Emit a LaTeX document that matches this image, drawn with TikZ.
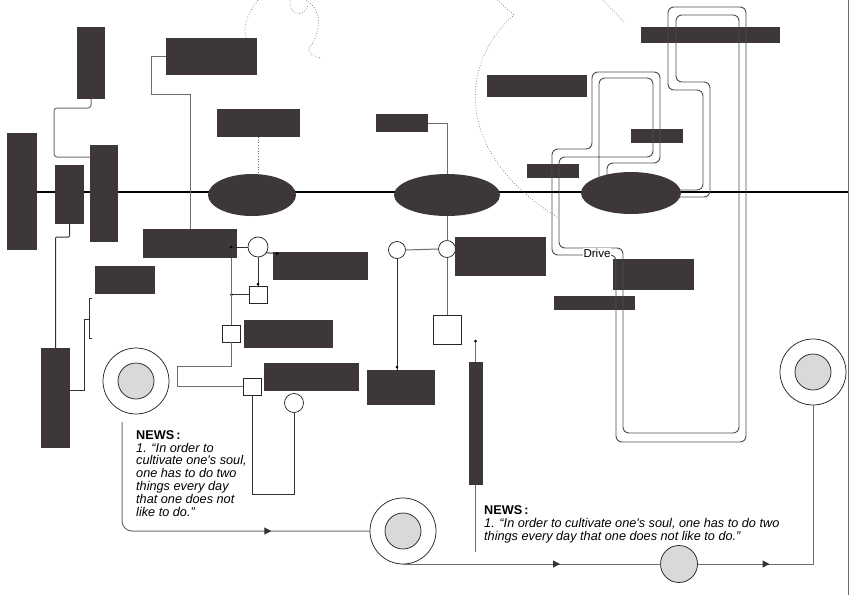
\documentclass[tikz,border=0pt]{standalone}
\usepackage{fontspec}
\newfontfamily\arial{Liberation Sans}
\usetikzlibrary{shapes.geometric,arrows.meta,decorations.markings}
\definecolor{boxc}{RGB}{61,56,55}
\definecolor{lgray}{RGB}{217,217,217}
\definecolor{lnc}{RGB}{110,110,110}
\begin{document}
\begin{tikzpicture}[x=1pt,y=-1pt,
 box/.style={rectangle, fill=boxc, draw=none, inner sep=0, outer sep=0},
 ell/.style={ellipse, fill=boxc, draw=none, inner sep=0, outer sep=0},
 wc/.style={circle, draw=black!85, fill=white, line width=0.75pt, inner sep=0, outer sep=0},
 ws/.style={rectangle, draw=black!85, fill=white, line width=0.75pt, inner sep=0, outer sep=0},
 tgo/.style={circle, draw=black!85, fill=white, line width=0.75pt, minimum size=66pt, inner sep=0, outer sep=0},
 tgi/.style={circle, draw=black!85, fill=lgray, line width=0.75pt, minimum size=36pt, inner sep=0, outer sep=0},
 conn/.style={draw=lnc, line width=1pt},
 dconn/.style={draw=black!80, line width=1pt},
 pipe/.style={draw=black!70, line width=0.9pt, rounded corners=6pt},
 dots/.style={draw=black!55, line width=0.7pt, dotted},
 enddot/.style={circle, fill=black, draw=none, inner sep=0, minimum size=3pt},
 arrowat/.style={postaction={decorate}, decoration={markings, mark=at position #1 with {\arrow[black!80]{Triangle[length=7pt,width=7pt]}}}},
 txt/.style={font=\arial\fontsize{12.7}{12.8}\selectfont, inner sep=0, anchor=north west, align=left}
]
\useasboundingbox (0,0) rectangle (849,595);

% main line and right border
\coordinate (mlL) at (7,192); \coordinate (mlR) at (849,192);
\draw[line width=1.2pt, black] (mlL) -- (mlR);
\coordinate (rbT) at (848,0); \coordinate (rbB) at (848,595);
\draw[conn] (rbT) -- (rbB);

% decorative dotted curves
\draw[dots] (246,38) .. controls (242,24) and (249,12) .. (258,0);
\draw[dots] (290,0) .. controls (288,14) and (303,19) .. (308,6);
\draw[dots] (306,0) .. controls (325,12) and (319,35) .. (310,47) .. controls (306,53) and (313,57) .. (322,58);
\draw[dots] (497,0) -- (514,15) .. controls (462,60) and (450,150) .. (557,217);
\draw[dots] (603,0) -- (625,23);

% boxes
\node[box, minimum width=30pt, minimum height=117pt] (b1) at (22,191.5) {};
\node[box, minimum width=28pt, minimum height=72pt] (b2) at (91,63) {};
\node[box, minimum width=29pt, minimum height=59pt] (b3) at (69.5,194.5) {};
\node[box, minimum width=28pt, minimum height=97pt] (b4) at (104,193.5) {};
\node[box, minimum width=91pt, minimum height=37pt] (b5) at (211.5,56.5) {};
\node[box, minimum width=83pt, minimum height=28pt] (b6) at (258.5,123) {};
\node[box, minimum width=94pt, minimum height=29pt] (b7) at (190,243.5) {};
\node[box, minimum width=95pt, minimum height=28pt] (b8) at (320.5,266) {};
\node[box, minimum width=60pt, minimum height=28pt] (b9) at (125,280) {};
\node[box, minimum width=89pt, minimum height=28pt] (b10) at (288.5,334) {};
\node[box, minimum width=95pt, minimum height=28pt] (b11) at (311.5,377) {};
\node[box, minimum width=68pt, minimum height=35pt] (b12) at (401,387.5) {};
\node[box, minimum width=29pt, minimum height=100pt] (b13) at (55.5,398) {};
\node[box, minimum width=52pt, minimum height=18pt] (b14) at (402,123) {};
\node[box, minimum width=91pt, minimum height=39pt] (b15) at (500.5,256.5) {};
\node[box, minimum width=14pt, minimum height=123pt] (b16) at (475.5,423.5) {};
\node[box, minimum width=100pt, minimum height=22pt] (b17) at (537,86) {};
\node[box, minimum width=139pt, minimum height=16pt] (b18) at (710.5,35) {};
\node[box, minimum width=52pt, minimum height=14pt] (b19) at (657,136) {};
\node[box, minimum width=52pt, minimum height=14pt] (b20) at (553,171) {};
\node[box, minimum width=81pt, minimum height=31pt] (b21) at (653.5,274.5) {};
\node[box, minimum width=81pt, minimum height=14pt] (b22) at (594.5,303) {};

% ellipses
\node[ell, minimum width=88pt, minimum height=42pt] (E1) at (252,195) {};
\node[ell, minimum width=106pt, minimum height=42pt] (E2) at (447,195) {};

% small circles and squares
\node[wc, minimum size=20pt] (C1) at (258,247) {};
\node[wc, minimum size=17pt] (C2) at (397,250) {};
\node[wc, minimum size=17pt] (C3) at (447,249) {};
\node[wc, minimum size=19pt] (C4) at (294,403) {};
\node[ws, minimum width=18pt, minimum height=17pt] (S1) at (258,294.5) {};
\node[ws, minimum width=18pt, minimum height=17pt] (S2) at (231,333.5) {};
\node[ws, minimum width=18pt, minimum height=17pt] (S3) at (252,386.5) {};
\node[ws, minimum width=28pt, minimum height=29pt] (S4) at (447,329.5) {};

% targets
\node[tgo] (T1) at (136,381) {};
\node[tgi] (T1i) at (T1.center) {};
\node[tgo] (T2) at (403,531) {};
\node[tgi] (T2i) at (T2.center) {};
\node[tgo] (T3) at (813,372) {};
\node[tgi] (T3i) at (T3.center) {};
\node[tgi, minimum size=37pt] (G) at (679,564) {};

% upper-left connectors
\draw[conn, rounded corners=3pt] (b2.south) -- (91,108) -- (54,108) -- (54,157) -- (b4.west |- 0,157);
\draw[dconn, rounded corners=1pt] (b3.south) -- ++(0,13) -| (b13.north);
\coordinate (brkL) at (84,390);
\coordinate (brk) at (89,319);
\draw[dconn] (b13.east |- brkL) -- (brkL) -- (84,319) -- (brk);
\draw[dconn] (92,298) -- (89,298) -- (89,338) -- (92,338);
\draw[conn] (b5.west) -| (151,94) -| (b7.north);
\draw[dots] (b6.south) -- (b6.south |- E1.north);

% around C1
\coordinate (d1) at (231,247);
\coordinate (d2) at (277,253.5);
\coordinate (d3) at (258,284);
\coordinate (d4) at (231.5,294.5);
\draw[dconn] (C1.west) -- (d1);
\draw[dconn] (C1.-35) -- (d2);
\draw[dconn] (C1.south) -- (S1.north);
\draw[dconn] (S1.west) -- (d4);
\node[enddot] (e1) at (d1) {};
\node[enddot] (e2) at (d2) {};
\node[enddot] (e3) at (d3) {};
\node[enddot] (e4) at (d4) {};
\draw[conn] (b7.south -| S2.north) -- (S2.north);
\draw[conn] (S2.south) |- (177,366) |- (S3.west);
\draw[dconn] (S3.south) -- (252,494) -| (C4.south);

% middle connectors
\draw[conn] (b14.east) -| (E2.north);
\draw[conn] (E2.south) -- (C3.north);
\draw[conn] (C3.west) -- (C2.east);
\draw[conn] (C3.south) -- (S4.north);
\coordinate (d5) at (397,367);
\draw[dconn] (C2.south) -- (C2.south |- b12.north);
\node[enddot] (e5) at (d5) {};
\coordinate (p16) at (475.5,341);
\coordinate (p16b) at (475.5,552);
\draw[conn] (p16) -- (b16.north);
\draw[conn] (b16.south) -- (p16b);
\node[enddot] (e6) at (p16) {};

% bottom flow lines
\coordinate (fl1) at (122,422);
\draw[conn, rounded corners=10pt, arrowat=254pt] (fl1) |- (T2.west);
\draw[conn, arrowat=157pt] (T2.south) -- (G.west);
\draw[conn, arrowat=72pt] (G.east) -| (T3.south);

% pipes
\draw[pipe] (607,185) -- (607,163) -- (660,163) -- (660,72) -- (592,72) -- (592,149) -- (552,149) -- (552,255) -- (616,255) -- (616,442) -- (746,442) -- (746,7) -- (668,7) -- (668,90) -- (703,90) -- (703,190) -- (670,190);
\draw[pipe] (599,185) -- (599,78) -- (653,78) -- (653,157) -- (559,157) -- (559,248) -- (623,248) -- (623,433) -- (739,433) -- (739,15) -- (676,15) -- (676,82) -- (710,82) -- (710,197) -- (670,197);
\node[ell, minimum width=100pt, minimum height=42pt] (E3) at (631,193) {};
\node[font=\arial\fontsize{11.6}{13}\selectfont, fill=white, inner sep=0.8pt, anchor=base west] (drive) at (582.5,257.5) {Drive};

% texts
\node[txt] (news1) at (136,430.2) {\textbf{NEWS\,:}\\\textit{1. “In order to}\\\textit{cultivate one's soul,}\\\textit{one has to do two}\\\textit{things every day}\\\textit{that one does not}\\\textit{like to do.”}};
\node[txt] (news2) at (484,505.4) {\textbf{NEWS\,:}\\\textit{1. “In order to cultivate one's soul, one has to do two}\\\textit{things every day that one does not like to do.”}};
\end{tikzpicture}
\end{document}
